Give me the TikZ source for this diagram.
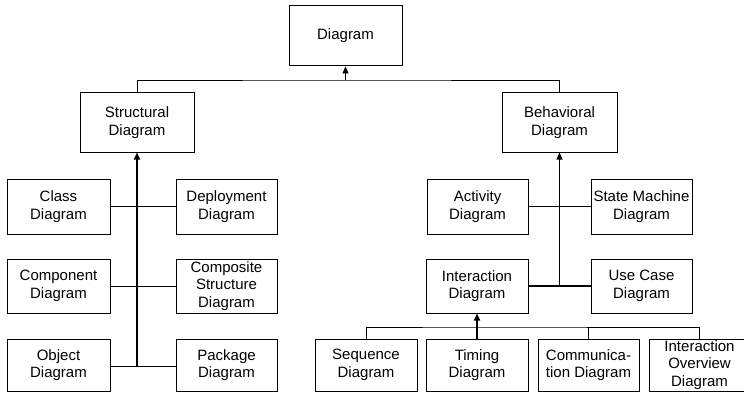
\documentclass[tikz,border=0pt]{standalone}
\usepackage{fontspec}
\setmainfont{Liberation Sans}
\usetikzlibrary{arrows.meta}
\begin{document}
\begin{tikzpicture}[x=1pt,y=-1pt,
  box/.style={draw, line width=1pt, inner sep=0pt, align=center,
    font=\fontsize{15}{17.5}\selectfont},
  conn/.style={line width=0.9pt},
  thickconn/.style={line width=1.7pt},
  arr/.style={-{Triangle[length=7pt,width=6pt]}}]
\useasboundingbox (0,0) rectangle (744,393);
\clip (0,0) rectangle (744,393);
\node[box, minimum width=113pt, minimum height=60pt] (diag) at (345.5,36) {Diagram};
\node[box, minimum width=114pt, minimum height=59pt] (struct) at (137,122.5) {Structural\\Diagram};
\node[box, minimum width=115pt, minimum height=59pt] (behav) at (559.5,122.5) {Behavioral\\Diagram};
\node[box, minimum width=103pt, minimum height=55pt] (class) at (58.5,206.5) {Class\\Diagram};
\node[box, minimum width=101pt, minimum height=55pt] (deploy) at (226.5,206.5) {Deployment\\Diagram};
\node[box, minimum width=103pt, minimum height=54pt] (comp) at (58.5,286) {Component\\Diagram};
\node[box, minimum width=101pt, minimum height=54pt] (compos) at (226.5,286) {Composite\\Structure\\Diagram};
\node[box, minimum width=103pt, minimum height=52pt] (object) at (58.5,365) {Object\\Diagram};
\node[box, minimum width=101pt, minimum height=52pt] (package) at (226.5,365) {Package\\Diagram};
\node[box, minimum width=101pt, minimum height=55pt] (activity) at (477.5,206.5) {Activity\\Diagram};
\node[box, minimum width=101pt, minimum height=55pt] (state) at (641.5,206.5) {State Machine\\Diagram};
\node[box, minimum width=102pt, minimum height=54pt] (inter) at (477,286) {Interaction\\Diagram};
\node[box, minimum width=101pt, minimum height=54pt] (usecase) at (641.5,286) {Use Case\\Diagram};
\node[box, minimum width=102pt, minimum height=52pt] (seq) at (366,365) {Sequence\\Diagram};
\node[box, minimum width=102pt, minimum height=52pt] (timing) at (477,365) {Timing\\Diagram};
\node[box, minimum width=101pt, minimum height=52pt] (commu) at (588.5,365) {Communica-\\tion Diagram};
\node[box, minimum width=101pt, minimum height=52pt] (overview) at (699.5,365) {Interaction\\Overview\\Diagram};
% top bus
\coordinate (bus1) at (345.5,80);
\draw[conn] (struct.north) |- (bus1) -| (behav.north);
\draw[conn,arr] (bus1) -- (diag.south);
% structural
\coordinate (s3) at (137,366);
\draw[thickconn,arr] (s3) -- (struct.south);
\draw[conn] (class) -- (deploy);
\draw[conn] (comp) -- (compos);
\draw[conn] (object.east |- s3) -- (package.west |- s3);
% behavioral
\coordinate (b2) at (559.5,287);
\draw[conn,arr] (b2) -- (behav.south);
\draw[thickconn] (activity) -- (state);
\draw[thickconn] (inter) -- (usecase);
% interaction bus
\coordinate (ib) at (477,327);
\draw[conn] (seq.north) |- (ib) -| (overview.north);
\draw[conn] (commu.north) -- (commu.north |- ib);
\draw[thickconn,arr] (timing.north) -- (inter.south);
\end{tikzpicture}
\end{document}
